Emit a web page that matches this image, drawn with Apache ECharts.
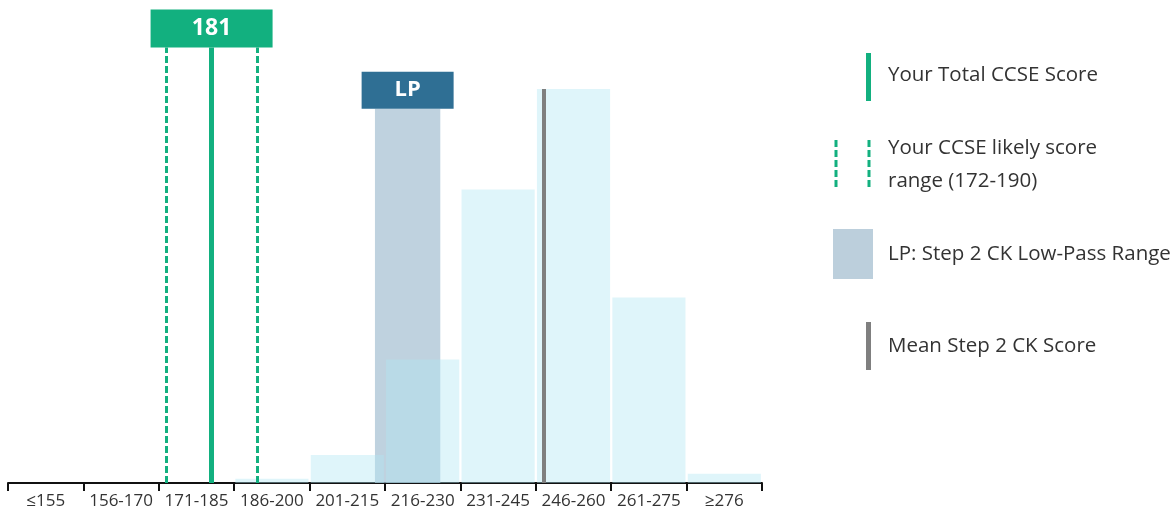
<!DOCTYPE html>
<html><head><meta charset="utf-8">
<script src="https://cdn.jsdelivr.net/npm/echarts@6/dist/echarts.min.js"></script>
<style>html,body{margin:0;padding:0;background:#fff;}#c{width:1176px;height:511px;}</style>
</head><body><div id="c"></div>
<script>
const categories = ['≤155','156-170','171-185','186-200','201-215','216-230','231-245','246-260','261-275','≥276'];
const percentOfExaminees = [0, 0, 0, 0.4, 2.7, 11.9, 28.3, 38.0, 17.9, 0.9];
const yourScore = 181;
const likelyRange = [172, 190];
const lowPassRange = [213.5, 226.5];
const meanScore = 247;
const scoreLabel = '181';
const lpLabel = 'LP';
const legendItems = ['Your Total CCSE Score', 'Your CCSE likely score', 'range (172-190)', 'LP: Step 2 CK Low-Pass Range', 'Mean Step 2 CK Score'];

const GREEN = '#12b07f', GRAY = '#7f7f7f', LPC = '#a6c1d3', LPBOX = '#2f6f94', BAR = 'rgba(175,230,243,0.4)';
const FONT = 'Open Sans';
const chart = echarts.init(document.getElementById('c'));
const markTop = 42;
chart.setOption({
  animation: false,
  grid: {left: 8, right: 414, top: 6, bottom: 28},
  xAxis: [
    {type: 'category', data: categories, boundaryGap: true,
     axisLine: {lineStyle: {color: '#111', width: 2}},
     axisTick: {show: true, length: 8, interval: 0, lineStyle: {color: '#111', width: 2}},
     axisLabel: {color: '#333', fontSize: 17, fontFamily: FONT, margin: 10, interval: 0, hideOverlap: false}},
    {type: 'value', min: 140.5, max: 290.5, show: false}
  ],
  yAxis: {type: 'value', min: 0, max: 46, show: false},
  series: [
    {type: 'bar', data: percentOfExaminees, barCategoryGap: '3%', itemStyle: {color: BAR}, z: 2},
    {type: 'line', xAxisIndex: 1, data: [], z: 3,
     markArea: {silent: true, z: 1,
       itemStyle: {color: LPC, opacity: 0.72},
       label: {show: true, position: 'top', distance: 0, formatter: lpLabel, color: '#fff',
         fontSize: 22, fontWeight: 'bold', fontFamily: FONT, backgroundColor: LPBOX,
         width: 92, height: 37, lineHeight: 37, align: 'center', verticalAlign: 'bottom'},
       data: [[{xAxis: lowPassRange[0], yAxis: 0}, {xAxis: lowPassRange[1], yAxis: 36.1}]]}},
    {type: 'line', xAxisIndex: 1, data: [], z: 4,
     markLine: {silent: true, symbol: 'none',
       data: [
         [{coord: [meanScore, 0], lineStyle: {color: GRAY, width: 4, type: 'solid'}}, {coord: [meanScore, 38.0]}],
         [{coord: [likelyRange[0], 0], lineStyle: {color: GREEN, width: 3, type: [7, 3]}}, {coord: [likelyRange[0], markTop]}],
         [{coord: [likelyRange[1], 0], lineStyle: {color: GREEN, width: 3, type: [7, 3]}}, {coord: [likelyRange[1], markTop]}],
         [{coord: [yourScore, 0], lineStyle: {color: GREEN, width: 5, type: 'solid'},
           label: {show: true, position: 'end', distance: 0, formatter: scoreLabel, color: '#fff',
             fontSize: 23, fontWeight: 'bold', fontFamily: FONT, backgroundColor: GREEN,
             width: 122, height: 38, lineHeight: 38, align: 'center', verticalAlign: 'bottom'}},
          {coord: [yourScore, markTop]}]
       ],
       label: {show: false}}}
  ],
  graphic: [
    {type: 'rect', shape: {x: 866, y: 53, width: 5, height: 48}, style: {fill: GREEN}},
    {type: 'text', left: 888, top: 65, style: {text: legendItems[0], fontSize: 20.5, fontFamily: FONT, fill: '#333'}},
    {type: 'line', shape: {x1: 836, y1: 140, x2: 836, y2: 188}, style: {stroke: GREEN, lineWidth: 3, lineDash: [7, 3]}},
    {type: 'line', shape: {x1: 869, y1: 140, x2: 869, y2: 188}, style: {stroke: GREEN, lineWidth: 3, lineDash: [7, 3]}},
    {type: 'text', left: 888, top: 138, style: {text: legendItems[1], fontSize: 20.5, fontFamily: FONT, fill: '#333'}},
    {type: 'text', left: 888, top: 171, style: {text: legendItems[2], fontSize: 20.5, fontFamily: FONT, fill: '#333'}},
    {type: 'rect', shape: {x: 833, y: 229, width: 40, height: 50}, style: {fill: '#bccfdc'}},
    {type: 'text', left: 888, top: 244, style: {text: legendItems[3], fontSize: 20.5, fontFamily: FONT, fill: '#333'}},
    {type: 'rect', shape: {x: 866, y: 322, width: 5, height: 48}, style: {fill: GRAY}},
    {type: 'text', left: 888, top: 336, style: {text: legendItems[4], fontSize: 20.5, fontFamily: FONT, fill: '#333'}}
  ]
});
</script></body></html>
